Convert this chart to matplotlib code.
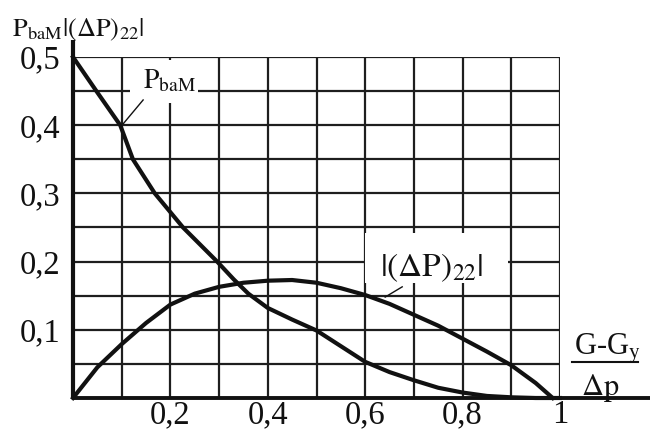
import matplotlib
matplotlib.use("Agg")
import matplotlib.pyplot as plt
from matplotlib.patches import Rectangle

# ---- data ----
x_pbam = [0.0, 0.05, 0.097, 0.123, 0.168, 0.226, 0.296, 0.33, 0.36, 0.4, 0.45, 0.5,
          0.55, 0.6, 0.65, 0.7, 0.75, 0.8, 0.85, 0.9, 0.95, 1.0]
y_pbam = [0.5, 0.448, 0.4, 0.35, 0.3, 0.25, 0.2, 0.174, 0.153, 0.132, 0.115, 0.099,
          0.076, 0.053, 0.038, 0.026, 0.015, 0.008, 0.003, 0.001, 0.0, 0.0]

x_dp = [0.0, 0.05, 0.1, 0.15, 0.2, 0.25, 0.3, 0.35, 0.4, 0.45, 0.5, 0.55, 0.6,
        0.65, 0.7, 0.75, 0.8, 0.85, 0.9, 0.95, 0.985]
y_dp = [0.0, 0.045, 0.079, 0.11, 0.137, 0.153, 0.163, 0.169, 0.172, 0.173, 0.169,
        0.161, 0.151, 0.138, 0.122, 0.106, 0.087, 0.068, 0.048, 0.022, 0.0]

x_ticks = [0.2, 0.4, 0.6, 0.8, 1.0]
x_tick_labels = ["0,2", "0,4", "0,6", "0,8", "1"]
y_ticks = [0.1, 0.2, 0.3, 0.4, 0.5]
y_tick_labels = ["0,1", "0,2", "0,3", "0,4", "0,5"]
x_grid = [0.1, 0.2, 0.3, 0.4, 0.5, 0.6, 0.7, 0.8, 0.9, 1.0]
y_grid = [0.05, 0.1, 0.15, 0.2, 0.25, 0.3, 0.35, 0.4, 0.45, 0.5]

plt.rcParams["font.family"] = ["Liberation Serif", "DejaVu Serif"]
plt.rcParams["mathtext.fontset"] = "stix"

W, H = 650, 441
fig = plt.figure(figsize=(W / 100, H / 100), dpi=100)
fig.patch.set_facecolor("white")
ax = fig.add_axes([73 / W, 1 - 398 / H, 487 / W, 341 / H])
ax.set_xlim(0, 1)
ax.set_ylim(0, 0.5)
for s in ax.spines.values():
    s.set_visible(False)

ink = "#111111"
gridc = "#1e1e1e"

# grid
ax.vlines(x_grid, 0, 0.5, color=gridc, lw=1.6, zorder=1)
ax.hlines(y_grid, 0, 1, color=gridc, lw=1.6, zorder=1)

# axes lines
ax.plot([0, 0], [0, 0.525], color=ink, lw=3, clip_on=False, zorder=2,
        solid_capstyle="butt")
ax.plot([0, 1.185], [0, 0], color=ink, lw=2.8, clip_on=False, zorder=2,
        solid_capstyle="butt")

# curves
ax.plot(x_pbam, y_pbam, color=ink, lw=3, zorder=5, clip_on=False,
        solid_joinstyle="round")
ax.plot(x_dp, y_dp, color=ink, lw=3, zorder=5, clip_on=False,
        solid_joinstyle="round")

# ticks
ax.set_xticks(x_ticks)
ax.set_xticklabels(x_tick_labels, fontsize=23.5)
ax.set_yticks(y_ticks)
ax.set_yticklabels(y_tick_labels, fontsize=23.5)
ax.tick_params(axis="both", length=0, colors=ink)
ax.tick_params(axis="x", pad=1)
ax.tick_params(axis="y", pad=9)

# label boxes (white background breaking the grid)
ax.add_patch(Rectangle((0.117, 0.432), 0.14, 0.064, facecolor="white",
                       edgecolor="none", zorder=3))
ax.text(0.144, 0.4545, r"$\mathrm{P}_{\mathrm{baM}}$", fontsize=20,
        ha="left", va="baseline", color=ink, zorder=4)
ax.plot([0.144, 0.103], [0.437, 0.402], color=ink, lw=1, zorder=4)

ax.add_patch(Rectangle((0.6, 0.169), 0.293, 0.073, facecolor="white",
                       edgecolor="none", zorder=3))
ax.text(0.63, 0.179, r"$|(\Delta\mathrm{P})_{22}|$", fontsize=24,
        ha="left", va="baseline", color=ink, zorder=4)
ax.plot([0.676, 0.641], [0.163, 0.148], color=ink, lw=1, zorder=4)

# x-axis label as a fraction
ax.text(1.097, 0.063, r"G-G$_{\mathrm{y}}$", fontsize=22, ha="center",
        va="baseline", color=ink, clip_on=False)
ax.plot([1.025, 1.16], [0.053, 0.053], color=ink, lw=1.5, clip_on=False)
ax.text(1.082, 0.004, r"$\Delta\mathrm{p}$", fontsize=22, ha="center",
        va="baseline", color=ink, clip_on=False)

# y-axis title
fig.text(12 / W, 1 - 36 / H, r"$\mathrm{P}_{\mathrm{baM}}|(\Delta\mathrm{P})_{22}|$",
         fontsize=19, ha="left", va="baseline", color=ink)

fig.savefig("out.png", dpi=100, facecolor="white")
